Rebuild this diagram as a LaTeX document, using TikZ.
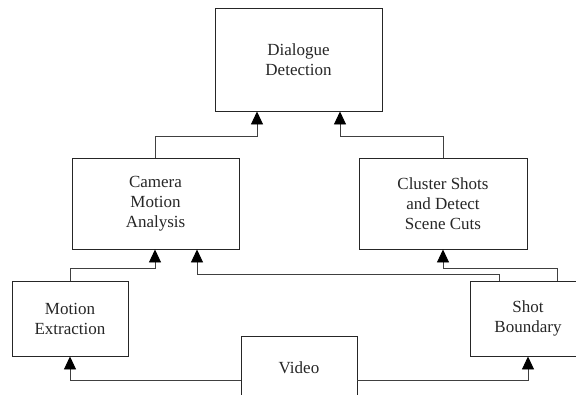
\documentclass[tikz,border=0pt]{standalone}
\usepackage{fontspec}
\setmainfont{Liberation Serif}
\usetikzlibrary{arrows.meta}
\begin{document}
\begin{tikzpicture}[x=1pt,y=-1pt,
  box/.style={draw=black!85,line width=0.9pt,inner sep=0pt,align=center,
    font=\fontsize{17}{20}\selectfont\rmfamily,text=black!85},
  conn/.style={draw=black!75,line width=0.9pt,-{Triangle[length=13pt,width=12pt,fill=black,color=black]}}]
\useasboundingbox (0,0) rectangle (576,394);
\clip (0,0) rectangle (576,394);
\node[box,minimum width=167pt,minimum height=103pt] (dd) at (298.5,59.5) {Dialogue\\Detection};
\node[box,minimum width=167pt,minimum height=91pt] (cam) at (155.5,203.5) {Camera\\Motion\\Analysis};
\node[box,minimum width=168pt,minimum height=91pt] (clu) at (443,203.5) {Cluster Shots\\and Detect\\Scene Cuts};
\node[box,minimum width=116pt,minimum height=75pt] (mot) at (70,318.5) {Motion\\Extraction};
\node[box,minimum width=116pt,minimum height=75pt] (shot) at (528,318.5) {Shot\\Boundary};
\node[box,minimum width=116pt,minimum height=64pt] (vid) at (299,368) {Video};
\coordinate (j1) at (257,136);
\coordinate (j2) at (340,136);
\coordinate (j3) at (155,268);
\coordinate (j4) at (197,274);
\coordinate (j5) at (443,268);
\coordinate (j6) at (70,380);
\coordinate (j7) at (528,380);
\draw[conn] (cam.north) |- (j1) -- (j1 |- dd.south);
\draw[conn] (clu.north) |- (j2) -- (j2 |- dd.south);
\draw[conn] (mot.north) |- (j3) -- (j3 |- cam.south);
\draw[conn] ([xshift=-29pt]shot.north) |- (j4) -- (j4 |- cam.south);
\draw[conn] ([xshift=29pt]shot.north) |- (j5) -- (j5 |- clu.south);
\draw[conn] (vid.west |- j6) -- (j6) -- (mot.south);
\draw[conn] (vid.east |- j7) -- (j7) -- (shot.south);
\end{tikzpicture}
\end{document}
